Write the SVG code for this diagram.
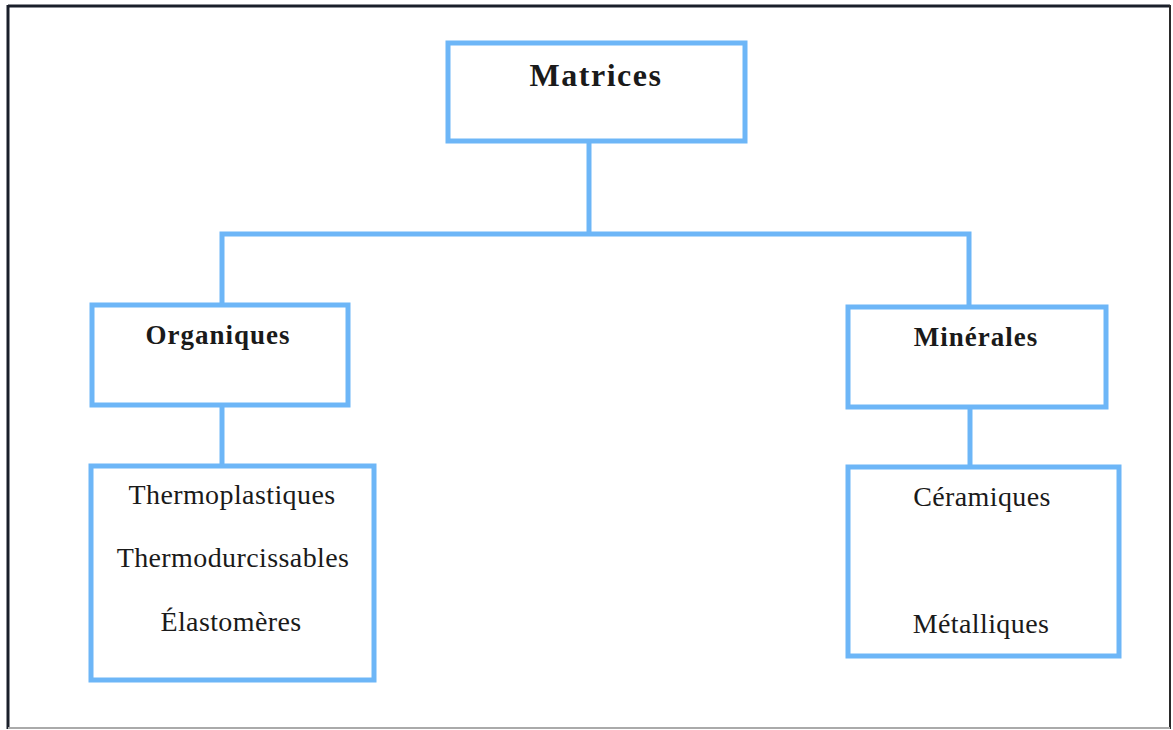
<svg xmlns="http://www.w3.org/2000/svg" width="1173" height="730" viewBox="0 0 1173 730">
<style>
.box{fill:#fff;stroke:#6db6f7;stroke-width:5}
.con{fill:none;stroke:#6db6f7;stroke-width:5}
.b{font-family:"Liberation Serif","Times New Roman",serif;font-weight:bold;fill:#1a1a1a;text-anchor:middle;letter-spacing:1px}
.r{font-family:"Liberation Serif","Times New Roman",serif;fill:#1a1a1a;text-anchor:middle;font-size:28px;letter-spacing:0.4px}
</style>
<rect x="0" y="0" width="1173" height="730" fill="#fff"/>
<g id="frame">
<line x1="8" y1="6" x2="1170" y2="6" stroke="#1a1f2a" stroke-width="3"/>
<line x1="8" y1="5" x2="8" y2="729" stroke="#1a1f2a" stroke-width="3"/>
<line x1="1170" y1="5" x2="1170" y2="729" stroke="#2a2a2a" stroke-width="2"/>
<line x1="8" y1="728" x2="1170" y2="728" stroke="#aaa" stroke-width="2"/>
</g>
<g id="connectors">
<polyline class="con" points="589,141 589,234"/>
<polyline class="con" points="222,305 222,234 969,234 969,307"/>
<polyline class="con" points="222,405 222,465"/>
<polyline class="con" points="970,407 970,466"/>
</g>
<g id="matrices">
<rect class="box" x="448" y="43" width="297" height="98"/>
<text class="b" x="596" y="86" font-size="32" style="letter-spacing:1.5px">Matrices</text>
</g>
<g id="organiques">
<rect class="box" x="92" y="305" width="256" height="100"/>
<text class="b" x="218" y="344" font-size="27">Organiques</text>
</g>
<g id="minerales">
<rect class="box" x="848" y="307" width="258" height="100"/>
<text class="b" x="976" y="346" font-size="27">Minérales</text>
</g>
<g id="organiques-list">
<rect class="box" x="91" y="466" width="283" height="214"/>
<text class="r" x="232" y="504">Thermoplastiques</text>
<text class="r" x="233" y="567">Thermodurcissables</text>
<text class="r" x="231" y="631">Élastomères</text>
</g>
<g id="minerales-list">
<rect class="box" x="848" y="467" width="271" height="189"/>
<text class="r" x="982" y="506">Céramiques</text>
<text class="r" x="981" y="633">Métalliques</text>
</g>
</svg>
